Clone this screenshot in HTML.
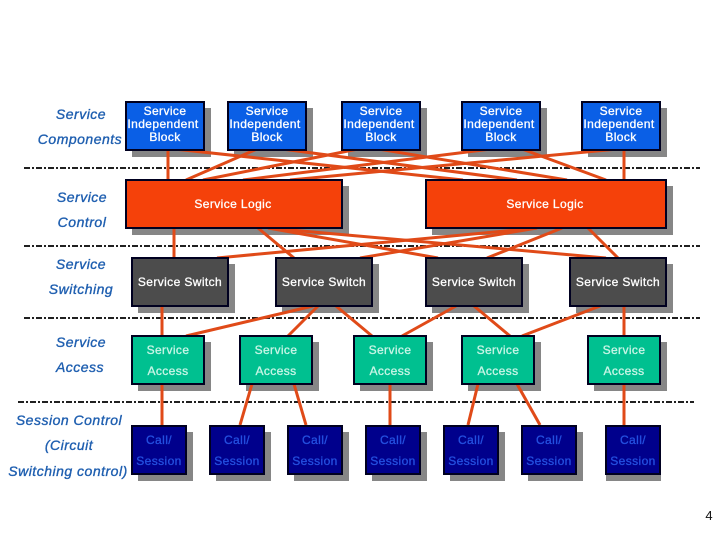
<!DOCTYPE html>
<html><head><meta charset="utf-8"><style>
html,body{margin:0;padding:0;background:#fff}
svg{display:block}
text{font-family:"Liberation Sans",sans-serif}
.l{font-size:14px;font-style:italic;fill:#1f5fb0;stroke:#1f5fb0;stroke-width:.35px;text-anchor:middle;letter-spacing:.5px}
.b{font-size:12px;text-anchor:middle;letter-spacing:.4px;stroke-width:.3px}
.w{fill:#fff;stroke:#fff}.a{fill:#c8f5e6;stroke:#c8f5e6}.c{fill:#2450e0;stroke:#2450e0}
.sib{fill:#0a5fe6}.log{fill:#f5410a}.sw{fill:#4c4c4c}.ac{fill:#00c090}.ca{fill:#00008c}
rect.s{fill:#868686}
rect.m{stroke:#000020;stroke-width:2}
.d{stroke:#000;stroke-width:1.7;stroke-dasharray:6 2 2 2;fill:none}
.o{stroke:#e04a18;stroke-width:3;fill:none}
</style></head><body>
<svg width="720" height="540" viewBox="0 0 720 540" xmlns="http://www.w3.org/2000/svg">
<rect width="720" height="540" fill="#fff"/>
<g class="d">
<path d="M24 168H700"/><path d="M24 246H700"/><path d="M24 318H700"/><path d="M18 402H694"/>
</g>
<!-- shadows -->
<rect class="s" x="132" y="108" width="79" height="49"/><rect class="s" x="234" y="108" width="79" height="49"/><rect class="s" x="348" y="108" width="79" height="49"/><rect class="s" x="468" y="108" width="79" height="49"/><rect class="s" x="588" y="108" width="79" height="49"/>
<rect class="s" x="132" y="186" width="217" height="49"/><rect class="s" x="432" y="186" width="241" height="49"/>
<rect class="s" x="138" y="264" width="97" height="49"/><rect class="s" x="282" y="264" width="97" height="49"/><rect class="s" x="432" y="264" width="97" height="49"/><rect class="s" x="576" y="264" width="97" height="49"/>
<rect class="s" x="138" y="342" width="73" height="49"/><rect class="s" x="246" y="342" width="73" height="49"/><rect class="s" x="360" y="342" width="73" height="49"/><rect class="s" x="468" y="342" width="73" height="49"/><rect class="s" x="594" y="342" width="73" height="49"/>
<rect class="s" x="138" y="432" width="55" height="49"/><rect class="s" x="216" y="432" width="55" height="49"/><rect class="s" x="294" y="432" width="55" height="49"/><rect class="s" x="372" y="432" width="55" height="49"/><rect class="s" x="450" y="432" width="55" height="49"/><rect class="s" x="528" y="432" width="55" height="49"/><rect class="s" x="606" y="432" width="55" height="49"/>
<!-- connectors -->
<g class="o">
<path d="M168 150V180"/><path d="M174 149L463 180"/>
<path d="M257 149L186 180"/><path d="M282 149L517 180"/>
<path d="M358 149L203 180"/><path d="M378 149L567 180"/>
<path d="M491 149L243 180"/><path d="M522 149L606 180"/>
<path d="M618 149L290 180"/><path d="M624 150V180"/>
<path d="M174 228V258"/><path d="M258 228L294 258"/>
<path d="M268 228L438 258"/><path d="M268 228L606 258"/>
<path d="M537 228L217 258"/><path d="M537 228L360 258"/>
<path d="M562 228L487 258"/><path d="M588 228L618 258"/>
<path d="M162 306V336"/><path d="M313 306L186 336"/><path d="M318 306L288 336"/><path d="M336 306L372 336"/>
<path d="M456 306L402 336"/><path d="M474 306L510 336"/><path d="M600 306L522 336"/><path d="M624 306V336"/>
<path d="M162 384V425"/><path d="M252 384L240 425"/><path d="M294 384L306 425"/><path d="M390 384V425"/>
<path d="M478 384L468 425"/><path d="M517 384L540 425"/><path d="M624 384V425"/>
</g>
<!-- boxes -->
<rect class="m sib" x="126" y="102" width="78" height="48"/><rect class="m sib" x="228" y="102" width="78" height="48"/><rect class="m sib" x="342" y="102" width="78" height="48"/><rect class="m sib" x="462" y="102" width="78" height="48"/><rect class="m sib" x="582" y="102" width="78" height="48"/>
<rect class="m log" x="126" y="180" width="216" height="48"/><rect class="m log" x="426" y="180" width="240" height="48"/>
<rect class="m sw" x="132" y="258" width="96" height="48"/><rect class="m sw" x="276" y="258" width="96" height="48"/><rect class="m sw" x="426" y="258" width="96" height="48"/><rect class="m sw" x="570" y="258" width="96" height="48"/>
<rect class="m ac" x="132" y="336" width="72" height="48"/><rect class="m ac" x="240" y="336" width="72" height="48"/><rect class="m ac" x="354" y="336" width="72" height="48"/><rect class="m ac" x="462" y="336" width="72" height="48"/><rect class="m ac" x="588" y="336" width="72" height="48"/>
<rect class="m ca" x="132" y="426" width="54" height="48"/><rect class="m ca" x="210" y="426" width="54" height="48"/><rect class="m ca" x="288" y="426" width="54" height="48"/><rect class="m ca" x="366" y="426" width="54" height="48"/><rect class="m ca" x="444" y="426" width="54" height="48"/><rect class="m ca" x="522" y="426" width="54" height="48"/><rect class="m ca" x="606" y="426" width="54" height="48"/>
<!-- left labels -->
<text class="l" x="81" y="119">Service</text><text class="l" x="80" y="144">Components</text>
<text class="l" x="82" y="202">Service</text><text class="l" x="82" y="227">Control</text>
<text class="l" x="81" y="269">Service</text><text class="l" x="81" y="294">Switching</text>
<text class="l" x="81" y="347">Service</text><text class="l" x="80" y="372">Access</text>
<text class="l" x="69" y="425">Session Control</text><text class="l" x="69" y="450">(Circuit</text><text class="l" x="68" y="476">Switching control)</text>
<!-- SIB text -->
<g class="b w">
<text x="165" y="115">Service</text><text x="163" y="128">Independent</text><text x="165" y="141">Block</text>
<text x="267" y="115">Service</text><text x="265" y="128">Independent</text><text x="267" y="141">Block</text>
<text x="381" y="115">Service</text><text x="379" y="128">Independent</text><text x="381" y="141">Block</text>
<text x="501" y="115">Service</text><text x="499" y="128">Independent</text><text x="501" y="141">Block</text>
<text x="621" y="115">Service</text><text x="619" y="128">Independent</text><text x="621" y="141">Block</text>
<text x="233" y="208">Service Logic</text><text x="545" y="208">Service Logic</text>
<text x="180" y="286">Service Switch</text><text x="324" y="286">Service Switch</text><text x="474" y="286">Service Switch</text><text x="618" y="286">Service Switch</text>
</g>
<g class="b a">
<text x="168" y="354">Service</text><text x="168" y="375">Access</text>
<text x="276" y="354">Service</text><text x="276" y="375">Access</text>
<text x="390" y="354">Service</text><text x="390" y="375">Access</text>
<text x="498" y="354">Service</text><text x="498" y="375">Access</text>
<text x="624" y="354">Service</text><text x="624" y="375">Access</text>
</g>
<g class="b c">
<text x="159" y="444">Call/</text><text x="159" y="465">Session</text>
<text x="237" y="444">Call/</text><text x="237" y="465">Session</text>
<text x="315" y="444">Call/</text><text x="315" y="465">Session</text>
<text x="393" y="444">Call/</text><text x="393" y="465">Session</text>
<text x="471" y="444">Call/</text><text x="471" y="465">Session</text>
<text x="549" y="444">Call/</text><text x="549" y="465">Session</text>
<text x="633" y="444">Call/</text><text x="633" y="465">Session</text>
</g>
<text x="709" y="520" font-size="13" text-anchor="middle" fill="#111">4</text>
</svg>
</body></html>
